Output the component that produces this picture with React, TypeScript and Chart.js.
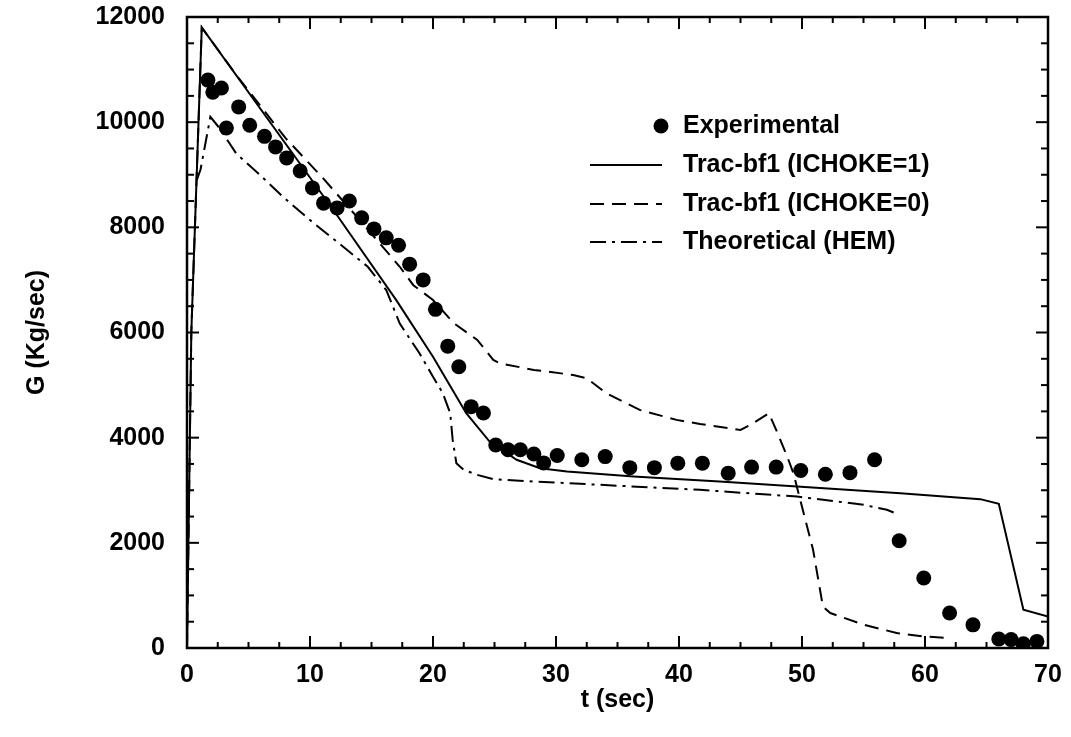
import React, { useEffect, useRef } from "react";
import { Chart, registerables } from "chart.js";

Chart.register(...registerables);

// ---- data ----
const expT = [1.7, 2.1, 2.8, 3.2, 4.2, 5.1, 6.3, 7.2, 8.1, 9.2, 10.2, 11.1, 12.2, 13.2, 14.2, 15.2, 16.2, 17.2, 18.1, 19.2, 20.2, 21.2, 22.1, 23.1, 24.1, 25.1, 26.1, 27.1, 28.2, 29.0, 30.1, 32.1, 34.0, 36.0, 38.0, 39.9, 41.9, 44.0, 45.9, 47.9, 49.9, 51.9, 53.9, 55.9, 57.9, 59.9, 62.0, 63.9, 66.0, 67.0, 68.0, 69.1];
const expG = [10800, 10570, 10650, 9890, 10290, 9940, 9730, 9530, 9320, 9070, 8750, 8460, 8370, 8500, 8180, 7970, 7800, 7660, 7300, 7000, 6440, 5740, 5350, 4590, 4470, 3860, 3770, 3770, 3690, 3520, 3660, 3580, 3640, 3430, 3430, 3515, 3515, 3325, 3440, 3440, 3375, 3305, 3335, 3580, 2040, 1330, 665, 440, 170, 160, 80, 125];

const choke1T = [0, 0.35, 1.2, 11.9, 17.0, 20.0, 22.7, 24.6, 26.8, 28.7, 30.9, 36.3, 43.3, 49.6, 58.0, 64.5, 66.0, 68.0, 70.0];
const choke1G = [0, 6000, 11800, 8330, 6620, 5540, 4465, 3925, 3580, 3420, 3356, 3260, 3166, 3070, 2945, 2831, 2742, 728, 600];

const choke0T = [0, 0.35, 1.2, 4.0, 8.0, 11.0, 14.0, 17.3, 18.4, 20.0, 21.7, 23.6, 24.9, 25.4, 28.2, 31.4, 32.5, 34.1, 36.8, 39.8, 41.7, 45.0, 45.8, 47.3, 47.9, 48.8, 49.3, 50.9, 51.7, 52.3, 55.0, 57.7, 59.9, 61.8];
const choke0G = [0, 6000, 11800, 10900, 9700, 8950, 8150, 7250, 6900, 6618, 6175, 5858, 5478, 5415, 5288, 5193, 5130, 4845, 4528, 4338, 4260, 4148, 4243, 4465, 4148, 3640, 3325, 1868, 790, 665, 443, 285, 220, 190];

const hemT = [0.8, 1.1, 1.9, 2.6, 4.0, 5.8, 7.8, 10.0, 12.7, 14.7, 16.2, 17.3, 18.9, 20.0, 20.8, 21.4, 21.6, 21.9, 22.5, 23.6, 24.9, 28.2, 33.6, 41.7, 49.6, 55.0, 56.9, 57.8];
const hemG = [8900, 9100, 10100, 9900, 9405, 9025, 8580, 8138, 7630, 7250, 6808, 6170, 5605, 5160, 4845, 4465, 3958, 3515, 3388, 3293, 3211, 3166, 3103, 3008, 2880, 2723, 2628, 2546];

const xTickValues = [0, 10, 20, 30, 40, 50, 60, 70];
const yTickValues = [0, 2000, 4000, 6000, 8000, 10000, 12000];
const legendLabels = ["Experimental", "Trac-bf1 (ICHOKE=1)", "Trac-bf1 (ICHOKE=0)", "Theoretical (HEM)"];
const xTitle = "t (sec)";
const yTitle = "G (Kg/sec)";

const FONT = "'Liberation Sans', Arial, Helvetica, sans-serif";
const DASH = [14, 8];
const DASHDOT = [16, 6, 3, 6];

const toPts = (t: number[], g: number[]) => t.map((x, i) => ({ x, y: g[i] }));

const frameTicks = {
  id: "frameTicks",
  afterDatasetsDraw(chart: any) {
    const { ctx, chartArea: a, scales } = chart;
    const x = scales.x;
    const y = scales.y;
    ctx.save();
    ctx.strokeStyle = "#000";
    ctx.lineWidth = 2;
    const seg = (x1: number, y1: number, x2: number, y2: number) => {
      ctx.beginPath();
      ctx.moveTo(x1, y1);
      ctx.lineTo(x2, y2);
      ctx.stroke();
    };
    for (let v = 0; v <= 70.001; v += 2.5) {
      const px = x.getPixelForValue(v);
      const len = Math.abs(v % 10) < 1e-6 ? 12 : 6;
      seg(px, a.bottom, px, a.bottom - len);
      seg(px, a.top, px, a.top + len);
    }
    for (let v = 0; v <= 12000.1; v += 500) {
      const py = y.getPixelForValue(v);
      const len = v % 2000 === 0 ? 12 : 7;
      seg(a.left, py, a.left + len, py);
      seg(a.right, py, a.right - len, py);
    }
    ctx.lineWidth = 2.5;
    ctx.strokeRect(a.left, a.top, a.right - a.left, a.bottom - a.top);
    ctx.restore();
  },
};

const customLegend = {
  id: "customLegend",
  afterDraw(chart: any) {
    const { ctx } = chart;
    ctx.save();
    ctx.fillStyle = "#000";
    ctx.strokeStyle = "#000";
    ctx.font = `bold 25px ${FONT}`;
    ctx.textBaseline = "middle";
    ctx.textAlign = "left";
    const textX = 683;
    const rows = [126, 165, 204, 242];
    const lineX1 = 590;
    const lineX2 = 662;
    ctx.beginPath();
    ctx.arc(661, rows[0], 7.5, 0, Math.PI * 2);
    ctx.fill();
    const dashes = [[], DASH, DASHDOT];
    for (let i = 1; i < 4; i++) {
      ctx.lineWidth = 2;
      ctx.setLineDash(dashes[i - 1]);
      ctx.beginPath();
      ctx.moveTo(lineX1, rows[i]);
      ctx.lineTo(lineX2, rows[i]);
      ctx.stroke();
    }
    ctx.setLineDash([]);
    legendLabels.forEach((lbl, i) => {
      ctx.fillText(lbl, textX, rows[i]);
    });
    ctx.restore();
  },
};

export default function App() {
  const ref = useRef<HTMLCanvasElement | null>(null);
  useEffect(() => {
    if (!ref.current) return;
    const chart = new Chart(ref.current, {
      type: "scatter",
      data: {
        datasets: [
          {
            label: legendLabels[0],
            data: toPts(expT, expG),
            showLine: false,
            pointRadius: 7.5,
            pointBackgroundColor: "#000",
            pointBorderWidth: 0,
            backgroundColor: "#000",
            borderColor: "#000",
          },
          {
            label: legendLabels[1],
            data: toPts(choke1T, choke1G),
            showLine: true,
            pointRadius: 0,
            borderColor: "#000",
            borderWidth: 2,
          },
          {
            label: legendLabels[2],
            data: toPts(choke0T, choke0G),
            showLine: true,
            pointRadius: 0,
            borderColor: "#000",
            borderWidth: 2,
            borderDash: DASH,
          },
          {
            label: legendLabels[3],
            data: toPts(hemT, hemG),
            showLine: true,
            pointRadius: 0,
            borderColor: "#000",
            borderWidth: 2,
            borderDash: DASHDOT,
          },
        ],
      },
      options: {
        responsive: false,
        animation: false,
        layout: { padding: { left: 0, right: 23, top: 17, bottom: 0 } },
        plugins: {
          legend: { display: false },
          tooltip: { enabled: false },
        },
        scales: {
          x: {
            type: "linear",
            min: 0,
            max: 70,
            afterBuildTicks: (s: any) => {
              s.ticks = xTickValues.map((v) => ({ value: v }));
            },
            afterFit: (s: any) => {
              s.height = 89;
              s.paddingLeft = 0;
              s.paddingRight = 0;
            },
            grid: { display: false, drawTicks: false },
            border: { display: false },
            ticks: {
              color: "#000",
              padding: 12,
              font: { family: FONT, size: 25, weight: "bold" },
              maxRotation: 0,
              callback: (v: any) => String(v),
            },
            title: {
              display: true,
              text: xTitle,
              color: "#000",
              font: { family: FONT, size: 25, weight: "bold" },
              padding: { top: 0, bottom: 22 },
            },
          },
          y: {
            type: "linear",
            min: 0,
            max: 12000,
            afterBuildTicks: (s: any) => {
              s.ticks = yTickValues.map((v) => ({ value: v }));
            },
            afterFit: (s: any) => {
              s.width = 187;
              s.paddingTop = 0;
              s.paddingBottom = 0;
            },
            grid: { display: false, drawTicks: false },
            border: { display: false },
            ticks: {
              color: "#000",
              padding: 22,
              font: { family: FONT, size: 25, weight: "bold" },
              callback: (v: any) => String(v),
            },
            title: {
              display: true,
              text: yTitle,
              color: "#000",
              font: { family: FONT, size: 25, weight: "bold" },
              padding: { top: 22, bottom: 0 },
            },
          },
        },
      },
      plugins: [frameTicks, customLegend],
    } as any);
    return () => chart.destroy();
  }, []);
  return (
    <div style={{ position: "absolute", left: 0, top: 0, width: 1071, height: 737, background: "#fff" }}>
      <canvas ref={ref} width={1071} height={737} />
    </div>
  );
}
